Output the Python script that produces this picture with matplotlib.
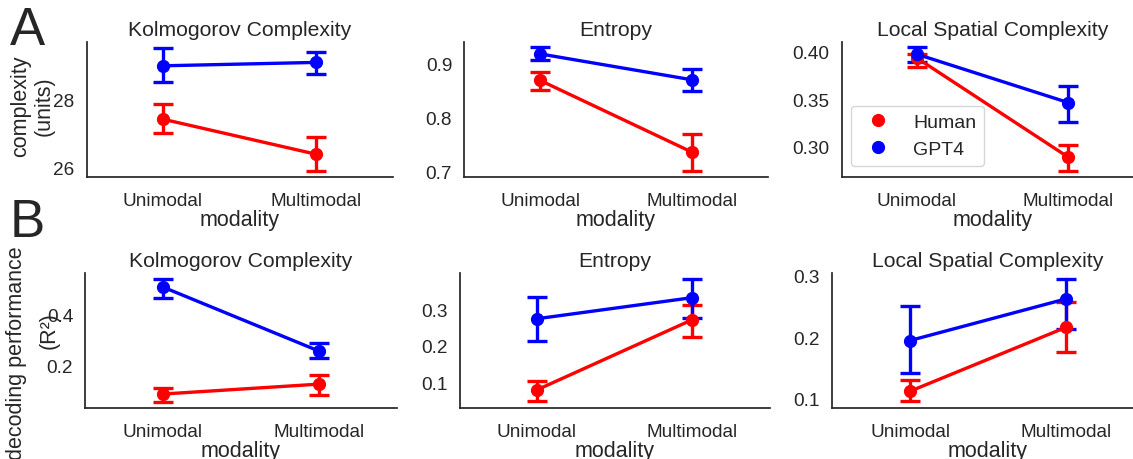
#!/usr/bin/env python3
"""Human vs GPT4 complexity and decoding performance by modality
"""

import matplotlib
matplotlib.use("Agg")
import matplotlib.pyplot as plt
from matplotlib.lines import Line2D
import seaborn as sns

sns.set_style("white")
plt.rcParams['font.family'] = ['Liberation Sans', 'DejaVu Sans']

#--- data (means and CI bounds)
#
modalities = ["Unimodal", "Multimodal"]
groups = ["Human", "GPT4"]
titles = ["Kolmogorov Complexity", "Entropy", "Local Spatial Complexity"]

# row A: complexity
kc_human_mean = [27.41, 26.38]
kc_human_lo = [26.99, 25.89]
kc_human_hi = [27.85, 26.88]
kc_gpt_mean = [28.98, 29.08]
kc_gpt_lo = [28.49, 28.74]
kc_gpt_hi = [29.49, 29.40]

ent_human_mean = [0.868, 0.735]
ent_human_lo = [0.851, 0.700]
ent_human_hi = [0.884, 0.768]
ent_gpt_mean = [0.917, 0.869]
ent_gpt_lo = [0.905, 0.848]
ent_gpt_hi = [0.930, 0.889]

lsc_human_mean = [0.393, 0.2895]
lsc_human_lo = [0.3835, 0.2752]
lsc_human_hi = [0.397, 0.3018]
lsc_gpt_mean = [0.397, 0.3465]
lsc_gpt_lo = [0.389, 0.326]
lsc_gpt_hi = [0.4045, 0.3633]

# row B: decoding performance (R^2)
dkc_human_mean = [0.088, 0.127]
dkc_human_lo = [0.058, 0.084]
dkc_human_hi = [0.110, 0.163]
dkc_gpt_mean = [0.509, 0.257]
dkc_gpt_lo = [0.466, 0.230]
dkc_gpt_hi = [0.539, 0.289]

dent_human_mean = [0.079, 0.272]
dent_human_lo = [0.047, 0.225]
dent_human_hi = [0.103, 0.312]
dent_gpt_mean = [0.275, 0.333]
dent_gpt_lo = [0.215, 0.277]
dent_gpt_hi = [0.335, 0.384]

dlsc_human_mean = [0.1125, 0.216]
dlsc_human_lo = [0.097, 0.176]
dlsc_human_hi = [0.130, 0.257]
dlsc_gpt_mean = [0.1946, 0.262]
dlsc_gpt_lo = [0.142, 0.213]
dlsc_gpt_hi = [0.250, 0.294]

W, H = 1133., 460.
colors = {"Human": "red", "GPT4": "blue"}
txt_c = '.15'


def px_axes(fig, x0, x1, y0, y1):
    """add axes from pixel box (top-left origin)"""
    return fig.add_axes([x0 / W, 1 - y1 / H, (x1 - x0) / W, (y1 - y0) / H])


def draw_panel(ax, series, ylim, yticks, title):
    xs = list(range(len(modalities)))
    for name, (mean, lo, hi) in series:
        c = colors[name]
        yerr = [[m - l for m, l in zip(mean, lo)],
                [h - m for m, h in zip(mean, hi)]]
        ax.errorbar(xs, mean, yerr=yerr, color=c, lw=2.4, elinewidth=2.4,
                    capsize=7, capthick=2.4, marker='o', markersize=8.5,
                    label=name)
    ax.set_xlim(-0.5, 1.5)
    ax.set_ylim(*ylim)
    ax.set_yticks(yticks)
    ax.set_xticks(xs)
    ax.set_xticklabels(modalities)
    ax.set_title(title, fontsize=15.2, color=txt_c, pad=5)
    ax.set_xlabel('modality', fontsize=15.5, color=txt_c, labelpad=0)
    ax.tick_params(axis='both', labelsize=13.7, colors=txt_c,
                   left=False, bottom=False)
    ax.tick_params(axis='y', pad=5)
    ax.tick_params(axis='x', pad=7)
    sns.despine(ax=ax)
    for sp in ['left', 'bottom']:
        ax.spines[sp].set_color(txt_c)
        ax.spines[sp].set_linewidth(1.25)


fig = plt.figure(figsize=(W / 100, H / 100), dpi=100)

row_a = [
    ((86.5, 392.5), [("Human", (kc_human_mean, kc_human_lo, kc_human_hi)),
                     ("GPT4", (kc_gpt_mean, kc_gpt_lo, kc_gpt_hi))],
     (25.71, 29.68), [26, 28]),
    ((464, 768), [("Human", (ent_human_mean, ent_human_lo, ent_human_hi)),
                  ("GPT4", (ent_gpt_mean, ent_gpt_lo, ent_gpt_hi))],
     (0.689, 0.939), [0.7, 0.8, 0.9]),
    ((841.5, 1143.5), [("Human", (lsc_human_mean, lsc_human_lo, lsc_human_hi)),
                       ("GPT4", (lsc_gpt_mean, lsc_gpt_lo, lsc_gpt_hi))],
     (0.2686, 0.4098), [0.30, 0.35, 0.40]),
]
row_b = [
    ((85, 397), [("Human", (dkc_human_mean, dkc_human_lo, dkc_human_hi)),
                 ("GPT4", (dkc_gpt_mean, dkc_gpt_lo, dkc_gpt_hi))],
     (0.033, 0.5645), [0.2, 0.4]),
    ((459.5, 769.5), [("Human", (dent_human_mean, dent_human_lo, dent_human_hi)),
                      ("GPT4", (dent_gpt_mean, dent_gpt_lo, dent_gpt_hi))],
     (0.029, 0.401), [0.1, 0.2, 0.3]),
    ((832, 1144), [("Human", (dlsc_human_mean, dlsc_human_lo, dlsc_human_hi)),
                   ("GPT4", (dlsc_gpt_mean, dlsc_gpt_lo, dlsc_gpt_hi))],
     (0.0854, 0.3039), [0.1, 0.2, 0.3]),
]

axes_a = []
for (x0, x1), series, ylim, yticks in row_a:
    ax = px_axes(fig, x0, x1, 43, 178)
    draw_panel(ax, series, ylim, yticks, titles[len(axes_a)])
    axes_a.append(ax)

axes_b = []
for (x0, x1), series, ylim, yticks in row_b:
    ax = px_axes(fig, x0, x1, 274, 409)
    draw_panel(ax, series, ylim, yticks, titles[len(axes_b)])
    axes_b.append(ax)

# label anchor is the right edge of the rotated text block
axes_a[0].set_ylabel('complexity\n(units)', fontsize=15.5, color=txt_c)
axes_a[0].yaxis.set_label_coords(-0.103, 0.53)

# the two lines of the lower y label are not centred on each other
axes_b[0].set_ylabel('decoding performance', fontsize=15.5, color=txt_c)
axes_b[0].yaxis.set_label_coords(-0.186, 0.415)
axes_b[0].text(-0.115, 0.578, '(R²)', transform=axes_b[0].transAxes,
               rotation=90, fontsize=15.5, color=txt_c,
               ha='center', va='center')

# legend only in the last top panel, markers only
handles = [Line2D([], [], ls='', marker='o', markersize=8.5, color=colors[g])
           for g in groups]
axes_a[2].legend(handles, groups, loc='lower left',
                 bbox_to_anchor=(0.031, 0.081), borderaxespad=0.,
                 fontsize=14, frameon=True, handletextpad=0.8,
                 labelcolor=txt_c)

fig.text(10 / W, 1 - 45 / H, 'A', fontsize=38, ha='left', va='baseline')
fig.text(10 / W, 1 - 237 / H, 'B', fontsize=38, ha='left', va='baseline')

fig.savefig('out.png', dpi=100)
